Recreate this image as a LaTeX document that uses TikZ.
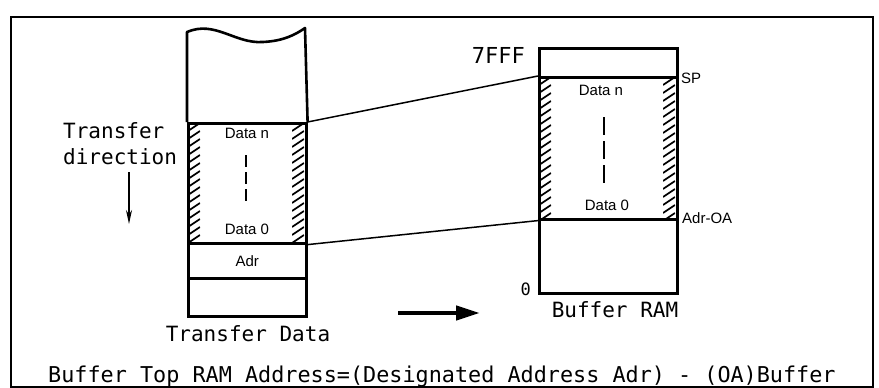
\documentclass[tikz,border=0pt]{standalone}
\usepackage{fontspec}
\setmainfont{Liberation Sans}
\newfontfamily\monofont{DejaVu Sans Mono}
\usetikzlibrary{arrows.meta}
\newcommand\hatchcol[4]{%
  \begin{scope}
    \clip (#1,#3) rectangle (#2,#4);
    \foreach \k in {0,...,21} {
      \draw[hatch] (#1,{#3+8*\k+9}) -- (#2,{#3+8*\k+1});
    }
  \end{scope}}
\begin{document}
\begin{tikzpicture}[x=1pt,y=-1pt,
  box/.style={draw, line width=2.6pt, rectangle, inner sep=0pt, anchor=north west},
  conn/.style={line width=1.5pt},
  hatch/.style={line width=1.7pt},
  small/.style={font=\fontsize{15}{17}\selectfont, inner sep=0pt},
  mono/.style={font=\monofont\fontsize{21}{24}\selectfont, inner sep=0pt},
]
\useasboundingbox (0,0) rectangle (879,388);
% outer frame
\node[draw, line width=2pt, minimum width=862pt, minimum height=370pt, anchor=north west, inner sep=0pt] (frame) at (10,16) {};

% left column (transfer data)
\node[box, minimum width=118pt, minimum height=120pt] (ldata) at (187,122) {};
\node[box, minimum width=118pt, minimum height=35pt] (ladr) at (187,242) {};
\node[box, minimum width=118pt, minimum height=38pt] (lbot) at (187,277) {};
\draw[line width=2.6pt, line join=round] (ldata.north west) -- (187,32)
  .. controls (215,20) and (235,44) .. (263,42)
  .. controls (283,41) and (295,35) .. (305,28) -- (ldata.north east);
\hatchcol{188}{200}{122}{242}
\hatchcol{292}{304}{122}{242}
\node[small] (ldn) at (247,133) {Data n};
\node[small] (ld0) at (247,229) {Data 0};
\node[small] (ladrt) at (ladr.center) {Adr};
\draw[line width=2.2pt, dash pattern=on 12pt off 5pt] (246,155) -- (246,201);

% right column (buffer RAM)
\node[box, minimum width=138pt, minimum height=29pt] (rtop) at (538,47) {};
\node[box, minimum width=138pt, minimum height=142pt] (rdata) at (538,76) {};
\node[box, minimum width=138pt, minimum height=74pt] (rbot) at (538,218) {};
\hatchcol{539}{551}{76}{218}
\hatchcol{663}{675}{76}{218}
\node[small] (rdn) at (601,90) {Data n};
\node[small] (rd0) at (607,205) {Data 0};
\draw[line width=2.2pt, dash pattern=on 18pt off 6pt] (604,117) -- (604,183);
\node[small, anchor=west] (sp) at (681,78) {SP};
\node[small, anchor=west] (adroa) at (682,218) {Adr-OA};
\node[mono, font=\monofont\fontsize{22}{25}\selectfont, anchor=base east] (tfff) at (525,63) {7FFF};
\node[mono, font=\monofont\fontsize{17}{20}\selectfont, anchor=base east] (zero) at (531,295) {0};

% connectors
\draw[conn] (ldata.north east) -- (rdata.north west);
\draw[conn] (ldata.south east) -- (rdata.south west);

% transfer direction
\node[mono, anchor=base west] (tr1) at (63,138) {Transfer};
\node[mono, anchor=base west] (tr2) at (63,164) {direction};
\coordinate (ta) at (129,172);
\coordinate (tb) at (129,224);
\draw[line width=1.5pt, -{Stealth[length=14pt,width=6pt]}] (ta) -- (tb);

% captions
\node[mono, anchor=base] (tdata) at (248,341) {Transfer Data};
\node[mono, anchor=base] (bram) at (615,317) {Buffer RAM};
\coordinate (ba) at (398,313);
\coordinate (bb) at (480,313);
\draw[line width=4.5pt, -{Triangle[length=24pt,width=14pt]}] (ba) -- (bb);
\node[mono, font=\monofont\fontsize{21.8}{25}\selectfont, anchor=base west] (formula) at (48,382) {Buffer Top RAM Address=(Designated Address Adr) - (OA)Buffer};
\end{tikzpicture}
\end{document}
